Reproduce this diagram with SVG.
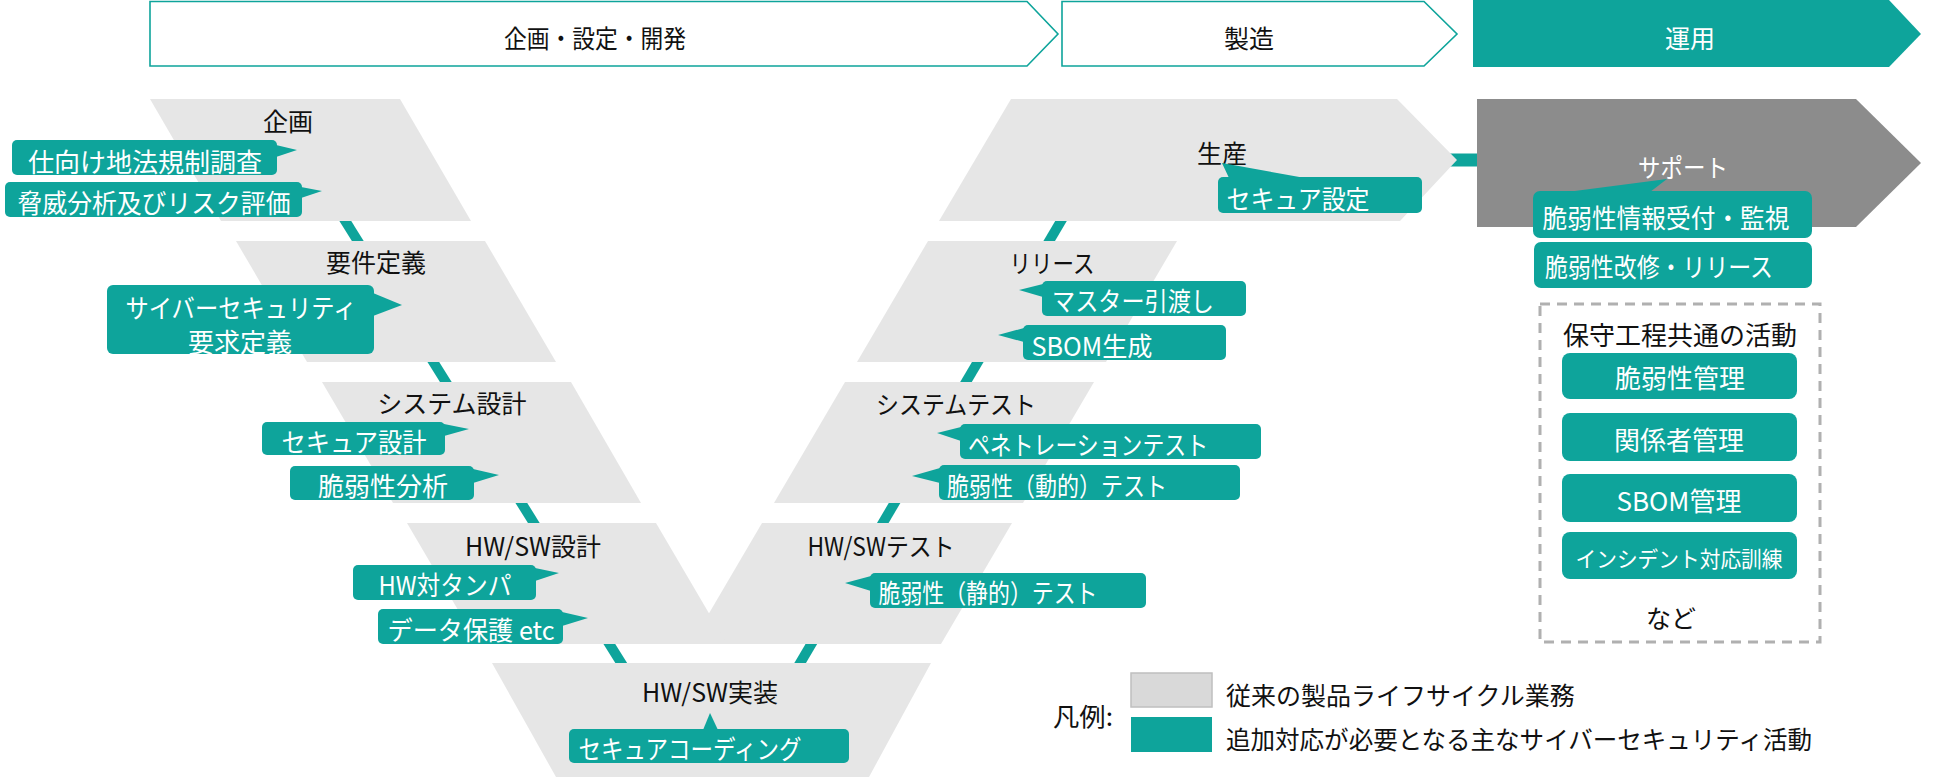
<svg xmlns="http://www.w3.org/2000/svg" width="1950" height="779" viewBox="0 0 1950 779">
<style>
.bg{fill:#ffffff}
.stage{fill:#e6e6e6}
.teal{fill:#0ea49b}
.phase{fill:#ffffff;stroke:#0ea49b;stroke-width:1.6}
.conn{fill:none;stroke:#0ea49b;stroke-width:10;stroke-linejoin:miter}
.t{font-family:"Noto Sans CJK JP","Noto Sans",sans-serif;text-anchor:middle;dominant-baseline:central}
.lb{font-size:25px;fill:#111111}
.cw{font-size:26px;fill:#ffffff}
.st{text-anchor:start}
</style>
<rect class="bg" x="0" y="0" width="1950" height="779"/>

<g id="connectors">
<path class="conn" d="M301,150 L688,770"/>
<path class="conn" d="M737,770 L1097,160"/>
<path class="conn" d="M1095,160 L1482,160" style="stroke-width:13"/>
</g>

<g id="phase-dev">
<polygon class="phase" points="150,1.5 1027,1.5 1058,34 1027,66 150,66"/>
<text class="t lb" x="595" y="37" font-size="24" textLength="182" lengthAdjust="spacingAndGlyphs">企画・設定・開発</text>
</g>
<g id="phase-mfg">
<polygon class="phase" points="1062,1.5 1424,1.5 1457,34 1424,66 1062,66"/>
<text class="t lb" x="1249" y="37">製造</text>
</g>
<g id="phase-ops">
<polygon class="teal" points="1473,0 1889,0 1921,34 1889,67 1473,67"/>
<text class="t lb" x="1690" y="37" style="fill:#ffffff">運用</text>
</g>

<g id="stage-kikaku">
<polygon class="stage" points="150,99 400,99 471,221 221,221"/>
<text class="t lb" x="288" y="120">企画</text>
</g>
<g id="stage-youken">
<polygon class="stage" points="236,241 485,241 556,362 307,362"/>
<text class="t lb" x="376" y="261">要件定義</text>
</g>
<g id="stage-sysdesign">
<polygon class="stage" points="322,382 571,382 641,503 393,503"/>
<text class="t lb" x="452" y="402">システム設計</text>
</g>
<g id="stage-hwswtest">
<polygon class="stage" points="762,523 1012,523 941,644 691,644"/>
<text class="t lb" x="881" y="545" textLength="147" lengthAdjust="spacingAndGlyphs">HW/SWテスト</text>
</g>
<g id="stage-hwswdesign">
<polygon class="stage" points="407,523 656,523 727,644 478,644"/>
<text class="t lb" x="533" y="545">HW/SW設計</text>
</g>
<g id="stage-impl">
<polygon class="stage" points="492,663 931,663 869,777 556,777"/>
<text class="t lb" x="710" y="691">HW/SW実装</text>
</g>
<g id="stage-systest">
<polygon class="stage" points="845,382 1094,382 1023,503 774,503"/>
<text class="t lb" x="956" y="403" textLength="160" lengthAdjust="spacingAndGlyphs">システムテスト</text>
</g>
<g id="stage-release">
<polygon class="stage" points="928,241 1177,241 1106,362 857,362"/>
<text class="t lb" x="1052" y="262" textLength="85" lengthAdjust="spacingAndGlyphs">リリース</text>
</g>
<g id="stage-production">
<polygon class="stage" points="1011,99 1397,99 1457,160 1400,221 939,221"/>
<text class="t lb" x="1222" y="152">生産</text>
</g>
<g id="stage-support">
<polygon points="1477,99 1856,99 1921,163 1856,227 1477,227" fill="#8c8c8c"/>
<text class="t lb" x="1683" y="166" style="fill:#ffffff" textLength="90" lengthAdjust="spacingAndGlyphs">サポート</text>
</g>

<g id="c-shimuke">
<rect class="teal" x="12" y="140" width="265" height="35" rx="5"/>
<polygon class="teal" points="276,145 297,150 276,157"/>
<text class="t cw" x="145" y="160">仕向け地法規制調査</text>
</g>
<g id="c-kyoui">
<rect class="teal" x="5" y="182" width="297" height="35" rx="5"/>
<polygon class="teal" points="301,187 322,191 301,198"/>
<text class="t cw" x="154" y="201" textLength="273" lengthAdjust="spacingAndGlyphs">脅威分析及びリスク評価</text>
</g>
<g id="c-cyberreq">
<rect class="teal" x="107" y="285" width="267" height="69" rx="6"/>
<polygon class="teal" points="373,293 402,305 373,316"/>
<text class="t cw" x="241" y="306" textLength="231" lengthAdjust="spacingAndGlyphs">サイバーセキュリティ</text>
<text class="t cw" x="240" y="340">要求定義</text>
</g>
<g id="c-securedesign">
<rect class="teal" x="262" y="422" width="183" height="33" rx="5"/>
<polygon class="teal" points="444,424 469,429 444,436"/>
<text class="t cw" x="354" y="440" textLength="145" lengthAdjust="spacingAndGlyphs">セキュア設計</text>
</g>
<g id="c-vulnanalysis">
<rect class="teal" x="290" y="466" width="184" height="34" rx="5"/>
<polygon class="teal" points="473,469 499,475 473,483"/>
<text class="t cw" x="383" y="484">脆弱性分析</text>
</g>
<g id="c-hwtamper">
<rect class="teal" x="353" y="565" width="183" height="35" rx="5"/>
<polygon class="teal" points="535,568 559,573 535,581"/>
<text class="t cw" x="445" y="583" textLength="133" lengthAdjust="spacingAndGlyphs">HW対タンパ</text>
</g>
<g id="c-dataprotect">
<rect class="teal" x="378" y="609" width="185" height="35" rx="5"/>
<polygon class="teal" points="562,612 588,618 562,626"/>
<text class="t cw" x="471" y="628" textLength="167" lengthAdjust="spacingAndGlyphs">データ保護 etc</text>
</g>
<g id="c-securecoding">
<rect class="teal" x="569" y="729" width="280" height="34" rx="5"/>
<polygon class="teal" points="703,730 710,713 718,730"/>
<text class="t cw" x="690" y="747" textLength="223" lengthAdjust="spacingAndGlyphs">セキュアコーディング</text>
</g>
<g id="c-securesetting">
<rect class="teal" x="1218" y="177" width="204" height="36" rx="5"/>
<polygon class="teal" points="1222,163 1229,178 1305,178"/>
<text class="t cw" x="1298" y="197" textLength="143" lengthAdjust="spacingAndGlyphs">セキュア設定</text>
</g>
<g id="c-master">
<rect class="teal" x="1042" y="281" width="204" height="35" rx="5"/>
<polygon class="teal" points="1043,284 1019,290 1043,297"/>
<text class="t cw" x="1133" y="299" textLength="162" lengthAdjust="spacingAndGlyphs">マスター引渡し</text>
</g>
<g id="c-sbomgen">
<rect class="teal" x="1023" y="325" width="203" height="35" rx="5"/>
<polygon class="teal" points="1024,328 998,335 1024,342"/>
<text class="t cw" x="1092" y="344" textLength="121" lengthAdjust="spacingAndGlyphs">SBOM生成</text>
</g>
<g id="c-pentest">
<rect class="teal" x="960" y="424" width="301" height="35" rx="5"/>
<polygon class="teal" points="961,427 937,433 961,441"/>
<text class="t cw" x="1088" y="443" textLength="240" lengthAdjust="spacingAndGlyphs">ペネトレーションテスト</text>
</g>
<g id="c-dynamic">
<rect class="teal" x="939" y="465" width="301" height="35" rx="5"/>
<polygon class="teal" points="940,468 912,476 940,483"/>
<text class="t cw" x="1057" y="484" textLength="220" lengthAdjust="spacingAndGlyphs">脆弱性（動的）テスト</text>
</g>
<g id="c-static">
<rect class="teal" x="870" y="573" width="276" height="35" rx="5"/>
<polygon class="teal" points="871,576 845,583 871,591"/>
<text class="t cw" x="988" y="591" textLength="219" lengthAdjust="spacingAndGlyphs">脆弱性（静的）テスト</text>
</g>
<g id="c-vulnintake">
<rect class="teal" x="1533" y="191" width="279" height="47" rx="7"/>
<polygon class="teal" points="1567,192 1667,179 1650,192"/>
<text class="t cw" x="1666" y="216" textLength="247" lengthAdjust="spacingAndGlyphs">脆弱性情報受付・監視</text>
</g>
<g id="c-vulnfix">
<rect class="teal" x="1534" y="242" width="278" height="46" rx="7"/>
<text class="t cw" x="1659" y="265" textLength="228" lengthAdjust="spacingAndGlyphs">脆弱性改修・リリース</text>
</g>

<g id="common-activities">
<rect x="1540" y="304" width="280" height="338" fill="none" stroke="#b0b0b0" stroke-width="3" stroke-dasharray="10 7"/>
<text class="t lb" x="1680" y="333" style="font-size:26px">保守工程共通の活動</text>
<text class="t lb" x="1671" y="617">など</text>
</g>
<g id="m-vulnmgmt">
<rect class="teal" x="1562" y="353" width="235" height="46" rx="8"/>
<text class="t cw" x="1680" y="376">脆弱性管理</text>
</g>
<g id="m-stakeholder">
<rect class="teal" x="1562" y="413" width="235" height="48" rx="8"/>
<text class="t cw" x="1679" y="438">関係者管理</text>
</g>
<g id="m-sbommgmt">
<rect class="teal" x="1562" y="474" width="235" height="48" rx="8"/>
<text class="t cw" x="1679" y="499">SBOM管理</text>
</g>
<g id="m-incident">
<rect class="teal" x="1562" y="532" width="235" height="47" rx="8"/>
<text class="t cw" x="1679" y="557" style="font-size:22px" textLength="207" lengthAdjust="spacingAndGlyphs">インシデント対応訓練</text>
</g>

<g id="legend">
<text class="t lb" x="1083" y="715" textLength="60" lengthAdjust="spacingAndGlyphs">凡例:</text>
<rect x="1131" y="673" width="81" height="34" fill="#d9d9d9" stroke="#bfbfbf" stroke-width="1.5"/>
<rect class="teal" x="1131" y="717" width="81" height="35"/>
<text class="t lb st" x="1226" y="694">従来の製品ライフサイクル業務</text>
<text class="t lb st" x="1226" y="738" textLength="586" lengthAdjust="spacingAndGlyphs">追加対応が必要となる主なサイバーセキュリティ活動</text>
</g>
</svg>
